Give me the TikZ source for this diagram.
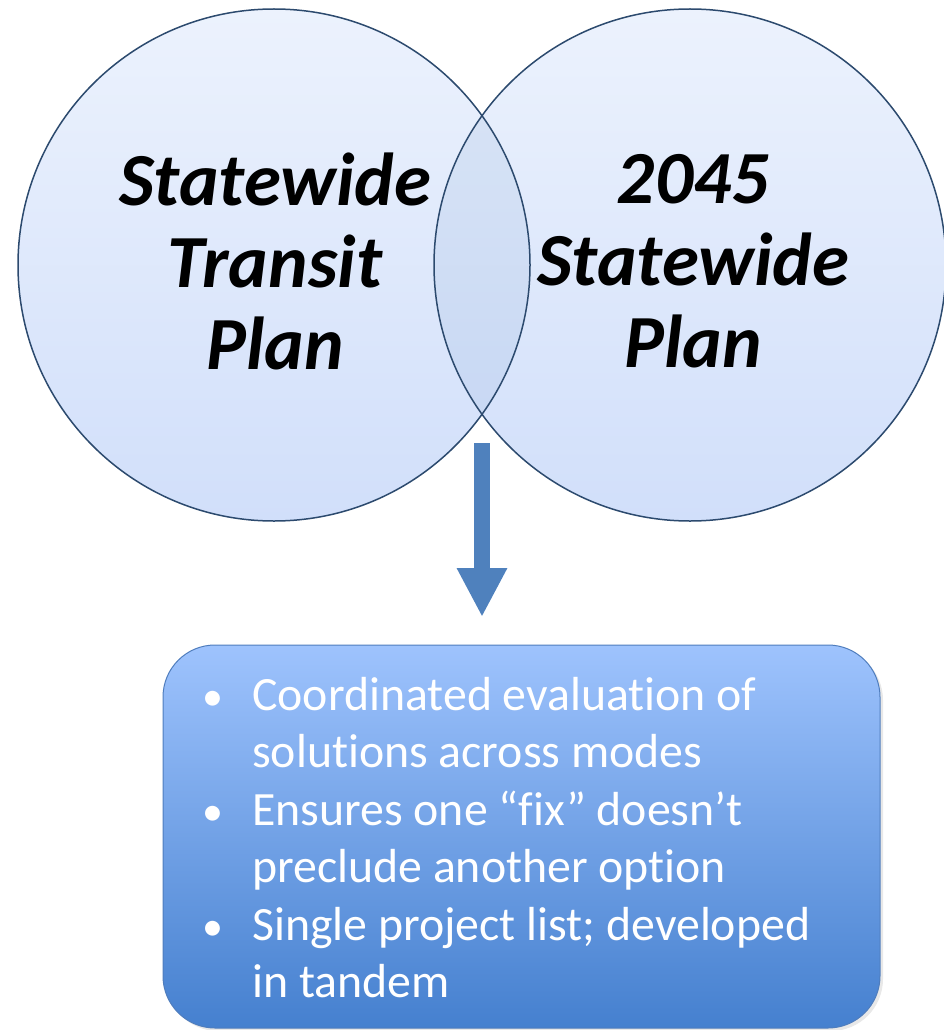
\documentclass[tikz,border=0pt]{standalone}
\usepackage{fontspec}
\newfontfamily\carl[Ligatures=NoCommon]{Carlito}
\usetikzlibrary{arrows.meta,shadows}
\definecolor{circtop}{HTML}{ECF2FD}
\definecolor{circbot}{HTML}{D1DFFA}
\definecolor{circline}{HTML}{2C4A6E}
\definecolor{arrowblue}{HTML}{4F81BD}
\definecolor{boxtop}{HTML}{9EC3FD}
\definecolor{boxbot}{HTML}{4580CF}
\definecolor{boxline}{HTML}{4F7DBD}
\tikzset{
  venn/.style={circle, minimum size=512pt, inner sep=0pt, top color=circtop, bottom color=circbot},
  vennline/.style={circle, minimum size=512pt, inner sep=0pt, draw=circline, line width=1.5pt},
  venntext/.style={align=center, inner sep=0pt, font=\carl\bfseries\itshape\fontsize{75}{82}\selectfont},
  panel/.style={rounded corners=52pt, minimum width=717pt, minimum height=383pt, inner sep=0pt,
    top color=boxtop, bottom color=boxbot, draw=boxline, line width=1pt,
    drop shadow={opacity=0.18, shadow xshift=3pt, shadow yshift=-3pt}},
  bullets/.style={inner sep=0pt, text=white, font=\carl\fontsize{47.8}{57.5}\selectfont},
  blockarrow/.style={draw=arrowblue, line width=16pt, -{Triangle[width=47pt,length=49pt]}, color=arrowblue}
}
\newcommand{\blt}{{\fontsize{42}{42}\selectfont\textbullet}}
\begin{document}
\begin{tikzpicture}[x=1pt,y=-1pt]
\useasboundingbox (0,0) rectangle (944,1030);
% circles
\node[venn] (L) at (274,265) {};
\node[venn] (R) at (690,265) {};
\begin{scope}
  \clip (274,265) circle (256);
  \fill[arrowblue, opacity=0.10] (690,265) circle (256);
\end{scope}
\node[vennline] at (L) {};
\node[vennline] at (R) {};
\node[venntext] (Ltext) at (275,261) {Statewide\\Transit\\Plan};
\node[venntext] (Rtext) at (693,261) {2045\\Statewide\\Plan};
% arrow
\coordinate (arrowStart) at (482,443);
\coordinate (arrowEnd) at (482,617);
\draw[blockarrow] (arrowStart) -- (arrowEnd);
% box
\node[panel] (box) at (521.5,836.5) {};
\node[bullets, anchor=north west] (list) at (202,670) {%
\begin{tabular}{@{}p{50pt}@{}l@{}}
\blt & Coordinated evaluation of\\
 & solutions across modes\\
\blt & Ensures one “fix” doesn’t\\
 & preclude another option\\
\blt & Single project list; developed\\
 & in tandem
\end{tabular}};
\end{tikzpicture}
\end{document}
